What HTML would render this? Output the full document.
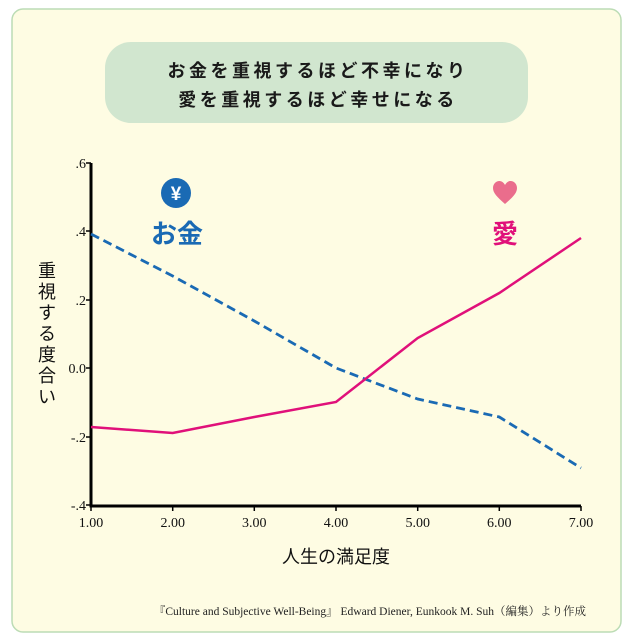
<!DOCTYPE html>
<html><head><meta charset="utf-8"><style>
html,body{margin:0;padding:0;background:#fff;}
svg{display:block;}
</style></head><body>
<svg width="633" height="643" xmlns="http://www.w3.org/2000/svg">
<rect x="12" y="9" width="609" height="623" rx="11" fill="#fefce3" stroke="#bcdcb5" stroke-width="1.5"/>
<rect x="105" y="42" width="423" height="81" rx="26" fill="#d1e6cf"/>
<g font-family="'Liberation Sans','Noto Sans CJK JP',sans-serif" font-weight="bold" font-size="18" fill="#1a1a1a" text-anchor="middle" letter-spacing="3.5">
<text x="318" y="77">お金を重視するほど不幸になり</text>
<text x="318" y="106">愛を重視するほど幸せになる</text>
</g>
<line x1="91" y1="163" x2="91" y2="507" stroke="#000" stroke-width="3"/>
<line x1="89.5" y1="506" x2="581" y2="506" stroke="#000" stroke-width="3"/>
<g stroke="#000" stroke-width="1.5">
<line x1="86" y1="163" x2="91" y2="163"/><line x1="86" y1="231" x2="91" y2="231"/><line x1="86" y1="300" x2="91" y2="300"/><line x1="86" y1="368" x2="91" y2="368"/><line x1="86" y1="437" x2="91" y2="437"/><line x1="86" y1="505" x2="91" y2="505"/>
<line x1="91" y1="506" x2="91" y2="511"/><line x1="172.7" y1="506" x2="172.7" y2="511"/><line x1="254.3" y1="506" x2="254.3" y2="511"/><line x1="336" y1="506" x2="336" y2="511"/><line x1="417.7" y1="506" x2="417.7" y2="511"/><line x1="499.3" y1="506" x2="499.3" y2="511"/><line x1="581" y1="506" x2="581" y2="511"/>
</g>
<g font-family="'Liberation Serif',serif" font-size="14" fill="#111" text-anchor="end">
<text x="86" y="168">.6</text><text x="86" y="236">.4</text><text x="86" y="305">.2</text><text x="86" y="373">0.0</text><text x="86" y="442">-.2</text><text x="86" y="510">-.4</text>
</g>
<g font-family="'Liberation Serif',serif" font-size="14" fill="#111" text-anchor="middle">
<text x="91" y="527">1.00</text><text x="172.7" y="527">2.00</text><text x="254.3" y="527">3.00</text><text x="336" y="527">4.00</text><text x="417.7" y="527">5.00</text><text x="499.3" y="527">6.00</text><text x="581" y="527">7.00</text>
</g>
<g font-family="'Liberation Sans','Noto Sans CJK JP',sans-serif" font-size="18" fill="#111" text-anchor="middle">
<text x="47" y="277">重</text><text x="47" y="298">視</text><text x="47" y="319">す</text><text x="47" y="340">る</text><text x="47" y="361">度</text><text x="47" y="382">合</text><text x="47" y="403">い</text>
<text x="336" y="563">人生の満足度</text>
</g>
<polyline points="91,234 172.7,276 254.3,321 336,368 417.7,399 499.3,417 581,468" fill="none" stroke="#1a6ab4" stroke-width="2.8" stroke-dasharray="9,5"/>
<polyline points="91,427 172.7,433 254.3,417 336,402 417.7,338 499.3,293 581,238" fill="none" stroke="#e0107a" stroke-width="2.5"/>
<circle cx="176" cy="193" r="15" fill="#1a6ab4"/>
<text x="176" y="200" font-family="'Liberation Sans',sans-serif" font-weight="bold" font-size="19" fill="#fff" text-anchor="middle">¥</text>
<text x="177" y="243" font-family="'Liberation Sans','Noto Sans CJK JP',sans-serif" font-weight="bold" font-size="26" fill="#1a6ab4" text-anchor="middle">お金</text>
<path d="M505,204 C497,197 493,193 493,188 C493,184 496,181 499.5,181 C502,181 504,183 505,185 C506,183 508,181 510.5,181 C514,181 517,184 517,188 C517,193 513,197 505,204Z" fill="#ea6d8c"/>
<text x="505" y="243" font-family="'Liberation Sans','Noto Sans CJK JP',sans-serif" font-weight="bold" font-size="26" fill="#e0107a" text-anchor="middle">愛</text>
<text x="586" y="615" font-family="'Liberation Serif','Noto Serif CJK SC',serif" font-size="11.5" fill="#222" text-anchor="end">『Culture and Subjective Well-Being』 Edward Diener, Eunkook M. Suh（編集）より作成</text>
</svg>
</body></html>
